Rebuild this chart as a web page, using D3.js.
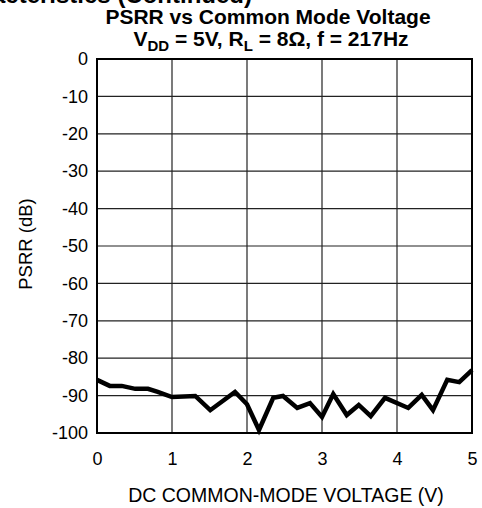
<!DOCTYPE html>
<html>
<head>
<meta charset="utf-8">
<script src="https://cdn.jsdelivr.net/npm/d3@7"></script>
<style>
  html, body { margin: 0; padding: 0; background: #fff; }
  svg { display: block; }
  text { font-family: Arial, "Liberation Sans", sans-serif; fill: #000; }
</style>
</head>
<body>
<svg id="chart"></svg>
<script>
// PSRR vs common-mode voltage
const voltage = [0, 0.17, 0.33, 0.51, 0.68, 0.81, 1.0, 1.31, 1.51, 1.84, 2.0, 2.16, 2.35, 2.48,
                 2.67, 2.84, 3.0, 3.15, 3.33, 3.49, 3.65, 3.84, 4.15, 4.33, 4.48, 4.67, 4.83, 5.0];
const psrr    = [-85.8, -87.4, -87.4, -88.2, -88.2, -89.0, -90.4, -90.1, -93.9, -89.0, -92.3, -99.2, -90.6, -90.1,
                 -93.3, -92.0, -95.7, -89.6, -95.2, -92.5, -95.5, -90.6, -93.3, -89.8, -93.9, -85.8, -86.4, -83.2];
const xTicks  = [0, 1, 2, 3, 4, 5];
const yTicks  = [0, -10, -20, -30, -40, -50, -60, -70, -80, -90, -100];

const W = 482, H = 508;
const margin = { top: 59, right: 10, bottom: 75, left: 97 };
const iw = W - margin.left - margin.right;
const ih = H - margin.top - margin.bottom;
const FONT = 'Arial, "Liberation Sans", sans-serif';

const svg = d3.select('#chart').attr('width', W).attr('height', H);

// ─── Page header (cut off at the top of the scan) ─────────────────────────────
svg.append('text')
  .attr('x', 252).attr('y', 3)
  .attr('text-anchor', 'end')
  .attr('font-size', 24).attr('font-weight', 'bold')
  .text('Typical Performance Characteristics (Continued)');

// ─── Title ────────────────────────────────────────────────────────────────────
svg.append('text')
  .attr('x', 268).attr('y', 24)
  .attr('text-anchor', 'middle')
  .attr('font-size', 21).attr('font-weight', 'bold')
  .text('PSRR vs Common Mode Voltage');

const sub = svg.append('text')
  .attr('x', 271).attr('y', 46)
  .attr('text-anchor', 'middle')
  .attr('font-size', 21).attr('font-weight', 'bold');
sub.append('tspan').text('V');
sub.append('tspan').attr('font-size', 15).attr('dy', 5).text('DD');
sub.append('tspan').attr('dy', -5).text(' = 5V, R');
sub.append('tspan').attr('font-size', 15).attr('dy', 5).text('L');
sub.append('tspan').attr('dy', -5).text(' = 8Ω, f = 217Hz');

// ─── Scales ───────────────────────────────────────────────────────────────────
const x = d3.scaleLinear().domain([0, 5]).range([0, iw]);
const y = d3.scaleLinear().domain([-100, 0]).range([ih, 0]);

const g = svg.append('g').attr('transform', `translate(${margin.left},${margin.top})`);

// Grid
g.append('g')
  .selectAll('line')
  .data(xTicks.slice(1, -1))
  .join('line')
  .attr('x1', d => x(d)).attr('x2', d => x(d))
  .attr('y1', 0).attr('y2', ih)
  .attr('stroke', '#222').attr('stroke-width', 1.2);

g.append('g')
  .selectAll('line')
  .data(yTicks.slice(1, -1))
  .join('line')
  .attr('x1', 0).attr('x2', iw)
  .attr('y1', d => y(d)).attr('y2', d => y(d))
  .attr('stroke', '#222').attr('stroke-width', 1.2);

// Frame
g.append('rect')
  .attr('width', iw).attr('height', ih)
  .attr('fill', 'none')
  .attr('stroke', '#000').attr('stroke-width', 2);

// Axes (labels only, plain hyphen minus like the datasheet)
const yAxis = g.append('g')
  .call(d3.axisLeft(y).tickValues(yTicks).tickSize(0).tickPadding(9).tickFormat(d => String(d)));
yAxis.select('.domain').remove();
yAxis.selectAll('text').attr('font-size', 18).attr('font-family', FONT).attr('fill', '#000');

const xAxis = g.append('g')
  .attr('transform', `translate(0,${ih})`)
  .call(d3.axisBottom(x).tickValues(xTicks).tickSize(0).tickPadding(19).tickFormat(d => String(d)));
xAxis.select('.domain').remove();
xAxis.selectAll('text').attr('font-size', 18).attr('font-family', FONT).attr('fill', '#000');

// Axis titles
svg.append('text')
  .attr('x', 286).attr('y', 502)
  .attr('text-anchor', 'middle')
  .attr('font-size', 19.5)
  .text('DC COMMON-MODE VOLTAGE (V)');

svg.append('text')
  .attr('transform', 'translate(32,244) rotate(-90)')
  .attr('text-anchor', 'middle')
  .attr('font-size', 18.5)
  .text('PSRR (dB)');

// ─── Data line ────────────────────────────────────────────────────────────────
const line = d3.line()
  .x((d, i) => x(voltage[i]))
  .y(d => y(d));

g.append('path')
  .datum(psrr)
  .attr('fill', 'none')
  .attr('stroke', '#000')
  .attr('stroke-width', 4.5)
  .attr('stroke-linejoin', 'miter')
  .attr('d', line);
</script>
</body>
</html>
